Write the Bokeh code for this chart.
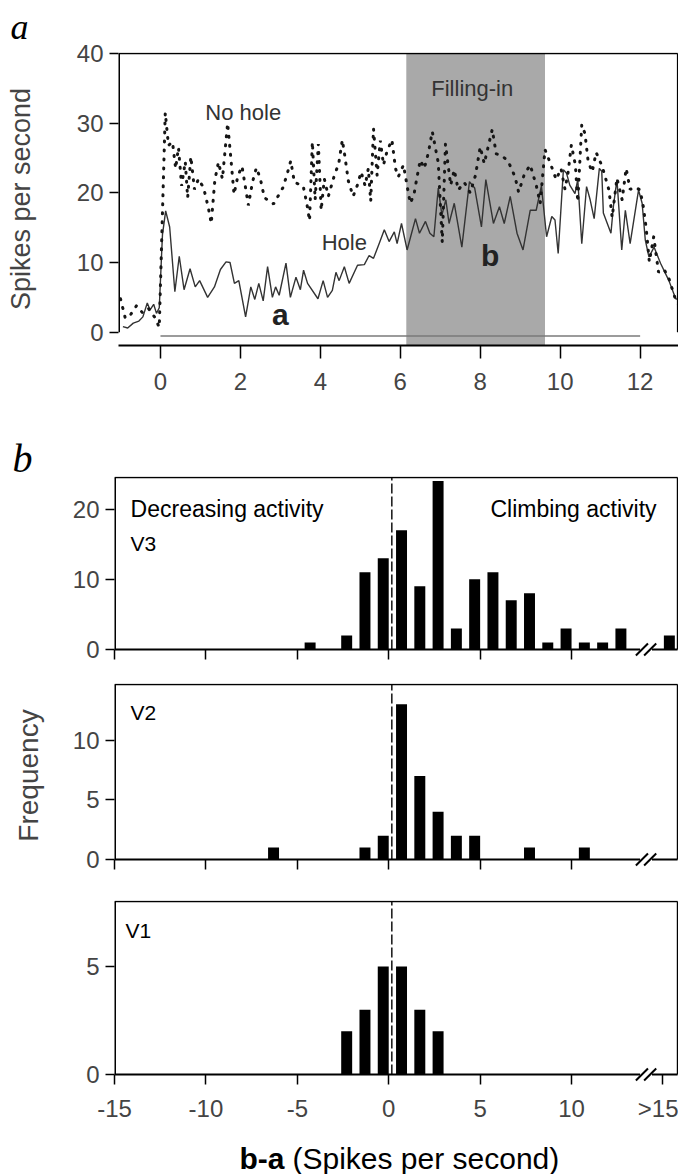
from bokeh.plotting import figure
from bokeh.layouts import column
from bokeh.models import Range1d, FixedTicker, Title
from bokeh.core.properties import value
from bokeh.embed import file_html
from bokeh.resources import INLINE

FONT = "Liberation Sans"
SERIF = "Liberation Serif"

# ---------------- panel a data (time in s, rate in spikes/s) ----------------
hole_t = [-0.94, -0.82, -0.68, -0.54, -0.44, -0.33, -0.26, -0.17, -0.1, -0.03, 0.05, 0.13,
          0.23, 0.36, 0.47, 0.59, 0.74, 0.87, 0.98, 1.18, 1.35, 1.5, 1.64, 1.74, 1.85, 1.96,
          2.13, 2.26, 2.36, 2.46, 2.57, 2.68, 2.8, 2.88, 2.97, 3.14, 3.25, 3.39, 3.5, 3.58,
          3.68, 3.94, 4.07, 4.18, 4.3, 4.39, 4.47, 4.6, 4.72, 4.93, 5.1, 5.22, 5.33, 5.47,
          5.6, 5.72, 5.85, 5.92, 6.03, 6.17, 6.38, 6.48, 6.63, 6.74, 6.84, 6.95, 7.04, 7.14,
          7.22, 7.35, 7.54, 7.73, 7.86, 8.03, 8.14, 8.33, 8.48, 8.6, 8.75, 8.92, 9.07, 9.25,
          9.4, 9.53, 9.66, 9.79, 9.87, 9.95, 10.08, 10.16, 10.24, 10.37, 10.44, 10.54, 10.66,
          10.75, 10.85, 10.98, 11.04, 11.08, 11.27, 11.33, 11.42, 11.54, 11.63, 11.75, 11.96,
          12.05, 12.13, 12.22, 12.35, 12.51, 12.72, 12.89, 12.96]
hole_v = [0.8, 0.6, 1.3, 1.6, 2.2, 4.2, 3.2, 4.0, 2.7, 3.5, 14.0, 17.4,
          15.1, 5.8, 10.9, 6.1, 9.1, 6.5, 7.4, 5.0, 6.5, 9.0, 10.1, 10.0, 7.0, 7.4,
          2.2, 6.5, 4.7, 7.0, 4.5, 9.4, 5.0, 6.5, 5.3, 9.9, 5.0, 7.9, 6.1, 8.9,
          7.0, 4.8, 7.4, 5.0, 6.0, 8.6, 7.4, 9.4, 7.0, 9.6, 9.7, 11.0, 10.6, 12.7,
          14.7, 13.0, 14.4, 12.7, 15.6, 11.8, 16.3, 14.2, 15.9, 14.2, 13.7, 20.7, 16.8, 19.0,
          15.6, 18.5, 12.2, 21.6, 20.7, 15.1, 21.9, 15.6, 18.0, 15.6, 19.5, 14.2, 11.8, 17.5,
          17.5, 21.0, 13.7, 16.6, 16.1, 11.3, 23.3, 22.8, 21.1, 19.9, 21.9, 12.7, 20.9,
          19.0, 16.3, 23.5, 23.1, 17.1, 14.2, 18.0, 21.9, 11.8, 17.5, 12.7, 20.4,
          18.5, 13.2, 10.8, 12.2, 9.9, 7.4, 4.8, 4.7]

nohole_t = [-1.0, -0.88, -0.75, -0.6, -0.45, -0.3, -0.15, -0.03, 0.12, 0.2, 0.3, 0.38, 0.45,
            0.53, 0.62, 0.68, 0.76, 0.85, 0.95, 1.08, 1.2, 1.27, 1.36, 1.45, 1.55, 1.68, 1.76,
            1.84, 1.94, 2.04, 2.12, 2.2, 2.3, 2.4, 2.5, 2.6, 2.83, 3.06, 3.16, 3.26, 3.35, 3.57,
            3.66, 3.73, 3.8, 3.87, 3.95, 4.02, 4.1, 4.2, 4.35, 4.46, 4.55, 4.62, 4.7, 4.82, 4.92,
            5.02, 5.12, 5.2, 5.26, 5.33, 5.42, 5.5, 5.58, 5.67, 5.79, 5.88, 5.95, 6.08, 6.17,
            6.25, 6.34, 6.42, 6.5, 6.6, 6.7, 6.8, 6.95, 7.05, 7.13, 7.26, 7.35, 7.45, 7.6, 7.75,
            7.88, 8.0, 8.1, 8.3, 8.4, 8.55, 8.7, 8.87, 8.96, 9.1, 9.25, 9.4, 9.5, 9.62, 9.75,
            9.9, 10.02, 10.12, 10.2, 10.28, 10.38, 10.44, 10.54, 10.62, 10.7, 10.8, 10.9, 11.05,
            11.22, 11.3, 11.42, 11.55, 11.65, 11.75, 11.88, 12.0, 12.08, 12.15, 12.23, 12.34,
            12.46, 12.6, 12.72, 12.88, 12.96]
nohole_v = [4.8, 2.0, 2.5, 3.8, 2.8, 3.4, 2.2, 0.7, 31.5, 26.8, 27.3, 23.5, 26.5,
            21.0, 24.5, 19.3, 25.2, 20.5, 22.0, 20.7, 17.8, 15.6, 21.8, 24.4, 22.0, 30.0, 25.0,
            19.8, 22.5, 23.8, 21.0, 18.2, 21.5, 23.6, 22.0, 19.3, 18.4, 20.7, 22.5, 24.6, 21.5, 21.0,
            18.5, 16.0, 27.3, 19.0, 27.0, 17.5, 22.0, 19.5, 22.5, 24.2, 27.6, 25.0, 21.7, 19.5, 21.0,
            23.0, 21.0, 23.5, 18.8, 29.2, 22.5, 27.5, 24.0, 26.0, 27.6, 23.5, 22.3, 24.0, 21.0,
            18.5, 19.7, 22.3, 24.7, 23.5, 25.7, 28.8, 24.3, 12.9, 27.0, 21.1, 23.3, 20.4, 21.5, 20.0,
            22.5, 26.6, 24.2, 29.1, 25.6, 25.3, 24.5, 22.3, 20.1, 22.6, 24.0, 21.1, 18.5, 26.2, 24.3,
            21.9, 23.5, 20.5, 23.0, 26.9, 24.0, 18.7, 29.8, 28.5, 24.5, 23.0, 25.8, 23.8,
            20.4, 16.5, 22.1, 19.0, 23.5, 20.5, 20.8, 20.4, 18.0, 15.0, 10.1, 13.7,
            8.6, 9.0, 7.7, 4.8, 4.0]

fill_start, fill_end = 6.15, 9.62      # "Filling-in" period
stim_start, stim_end, stim_y = 0.0, 12.0, -0.55
a_xticks = [0, 2, 4, 6, 8, 10, 12]
a_yticks = [0, 10, 20, 30, 40]

# ---------------- panel b data (b-a, counts) ----------------
bin_width = 0.6
v3_x = [-4.3, -2.3, -1.3, -0.3, 0.7, 1.7, 2.7, 3.7, 4.7, 5.7, 6.7, 7.7, 8.7, 9.7, 10.7, 11.7, 12.7, 15.35]
v3_n = [1, 2, 11, 13, 17, 9, 24, 3, 10, 11, 7, 8, 1, 3, 1, 1, 3, 2]
v2_x = [-6.3, -1.3, -0.3, 0.7, 1.7, 2.7, 3.7, 4.7, 7.7, 10.7]
v2_n = [1, 1, 2, 13, 7, 4, 2, 2, 1, 1]
v1_x = [-2.3, -1.3, -0.3, 0.7, 1.7, 2.7]
v1_n = [2, 3, 5, 5, 3, 2]
b_xticks = [-15, -10, -5, 0, 5, 10]
b_xticks_last = [-15, -10, -5, 0, 5, 10, 15]
b_overrides = {-15: "-15", -10: "-10", -5: "-5", 15: ">15"}
split_x = 0.17
b_xmin, b_xmax = -15.0, 15.8
break_x = [13.85, 14.3]

W = 678


def clean(p):
    p.outline_line_color = None
    p.grid.visible = False
    p.background_fill_color = "white"
    p.border_fill_color = "white"
    p.min_border_right = 0
    p.frame_align = False


def strip(h):
    s = figure(frame_width=W, frame_height=h, x_range=Range1d(0, W), y_range=Range1d(0, h),
               min_border=0, x_axis_type=None, y_axis_type=None,
               output_backend="svg", toolbar_location=None, tools="")
    clean(s)
    s.min_border_left = 0
    s.min_border_top = 0
    s.min_border_bottom = 0
    return s


# ---------------- panel a ----------------
a_xr = Range1d(-1.05, 12.96)
a_yr = Range1d(-1.91, 40.14)
pa = figure(frame_width=560, frame_height=293, x_range=a_xr, y_range=a_yr,
            min_border_left=118, min_border_top=52, min_border_bottom=60,
            output_backend="svg", toolbar_location=None, tools="")
clean(pa)
pa.add_layout(Title(text="a", align="left", offset=-108, standoff=8, vertical_align="top",
                    text_font=SERIF, text_font_style="italic", text_font_size="36px",
                    text_color="black"), "above")
pa.quad(left=[fill_start], right=[fill_end], bottom=[a_yr.start], top=[a_yticks[-1]],
        fill_color="#a9a9a9", line_color=None)
pa.line([stim_start, stim_end], [stim_y, stim_y], line_color="#7a7a7a", line_width=1.3)
pa.line(hole_t, hole_v, line_color="#333333", line_width=1.4)
pa.line(nohole_t, nohole_v, line_color="#151515", line_width=3, line_dash="1 8", line_cap="round")
ytop = a_yticks[-1]
pa.segment(x0=[a_xr.start, a_xr.start, 12.94], y0=[0, ytop, 0],
           x1=[a_xr.start, 12.94, 12.94], y1=[ytop, ytop, ytop],
           line_color="black", line_width=[3, 1.6, 1.6])
pa.text(x=[2.07, 7.8, 4.6], y=[31.5, 35.0, 12.9], text=["No hole", "Filling-in", "Hole"],
        text_font=value(FONT), text_font_size="22px", text_color="#333333",
        text_align="center", text_baseline="middle")
pa.text(x=[3.0, 8.25], y=[2.6, 11.0], text=["a", "b"], text_font=value(FONT),
        text_font_size="30px", text_font_style="bold", text_color="#222222",
        text_align="center", text_baseline="middle")
ax = pa.yaxis[0]
ax.ticker = FixedTicker(ticks=a_yticks)
ax.axis_line_color = None
ax.major_tick_out = 9
ax.major_tick_in = 0
ax.major_tick_line_width = 1.5
ax.minor_tick_line_color = None
ax.major_label_text_font = FONT
ax.major_label_text_font_size = "24px"
ax.major_label_standoff = 6
ax.axis_label = "Spikes per second"
ax.axis_label_text_font = FONT
ax.axis_label_text_font_size = "27px"
ax.axis_label_text_font_style = "normal"
ax.axis_label_standoff = 38
bx = pa.xaxis[0]
bx.ticker = FixedTicker(ticks=a_xticks)
bx.axis_line_width = 2
bx.major_tick_out = 13
bx.major_tick_in = 0
bx.major_tick_line_width = 1.5
bx.minor_tick_line_color = None
bx.major_label_text_font = FONT
bx.major_label_text_font_size = "24px"
bx.major_label_standoff = 14

# ---------------- panel b ----------------
b_xr = Range1d(b_xmin, 15.85)


def hist_panel(xs, ns, ymax, yticks, data_h, top_b, bot_b, last=False):
    pad_b, pad_t = 8, 1
    ppu = data_h / ymax
    yr = Range1d(-pad_b / ppu, ymax + pad_t / ppu)
    p = figure(frame_width=564, frame_height=data_h + pad_b + pad_t, x_range=b_xr, y_range=yr,
               min_border_left=114, min_border_top=top_b, min_border_bottom=bot_b,
               output_backend="svg", toolbar_location=None, tools="")
    clean(p)
    p.vbar(x=xs, top=ns, bottom=0, width=bin_width, fill_color="black", line_color=None)
    p.segment(x0=[split_x], y0=[0], x1=[split_x], y1=[ymax], line_color="black",
              line_width=1.4, line_dash="10 3")
    p.segment(x0=[b_xmin, b_xmin, b_xmax], y0=[0, ymax, 0], x1=[b_xmin, b_xmax, b_xmax],
              y1=[ymax, ymax, ymax], line_color="black", line_width=[3, 1.6, 1.6])
    p.segment(x0=[b_xmin, break_x[1] + 0.1], y0=[0, 0], x1=[break_x[0] - 0.1, b_xmax], y1=[0, 0],
              line_color="black", line_width=2)
    dx, dy = 0.33, 6.0 / ppu
    p.segment(x0=[b - dx for b in break_x], y0=[-dy, -dy],
              x1=[b + dx for b in break_x], y1=[dy, dy], line_color="black", line_width=2)
    yax = p.yaxis[0]
    yax.ticker = FixedTicker(ticks=yticks)
    yax.axis_line_color = None
    yax.major_tick_out = 9
    yax.major_tick_in = 0
    yax.major_tick_line_width = 1.5
    yax.minor_tick_line_color = None
    yax.major_label_text_font = FONT
    yax.major_label_text_font_size = "24px"
    yax.major_label_standoff = 6
    xax = p.xaxis[0]
    xax.ticker = FixedTicker(ticks=b_xticks_last if last else b_xticks)
    xax.axis_line_color = None
    xax.major_tick_in = pad_b
    xax.major_tick_out = 2
    xax.major_tick_line_width = 1.5
    xax.minor_tick_line_color = None
    if last:
        xax.major_label_overrides = b_overrides
        xax.major_label_text_font = FONT
        xax.major_label_text_font_size = "24px"
        xax.major_label_standoff = 10
    else:
        xax.major_label_text_color = None
        xax.major_label_text_font_size = "1px"
        xax.major_label_standoff = 0
    return p


p3 = hist_panel(v3_x, v3_n, 24.5, [0, 10, 20], 172, 71, 10)
p3.add_layout(Title(text="b", align="left", offset=-102, standoff=-8,
                    text_font=SERIF, text_font_style="italic", text_font_size="40px",
                    text_color="black"), "above")
p3.text(x=[-14.12], y=[20.0], text=["Decreasing activity"], text_font=value(FONT),
        text_font_size="23px", text_align="left", text_baseline="middle")
p3.text(x=[14.65], y=[20.0], text=["Climbing activity"], text_font=value(FONT),
        text_font_size="23px", text_align="right", text_baseline="middle")
p3.text(x=[-14.12], y=[15.1], text=["V3"], text_font=value(FONT),
        text_font_size="21px", text_align="left", text_baseline="middle")

p2 = hist_panel(v2_x, v2_n, 14.66, [0, 5, 10], 175, 16, 13)
p2.text(x=[-14.12], y=[12.3], text=["V2"], text_font=value(FONT),
        text_font_size="21px", text_align="left", text_baseline="middle")
fy = p2.yaxis[0]
fy.axis_label = "Frequency"
fy.axis_label_text_font = FONT
fy.axis_label_text_font_size = "28px"
fy.axis_label_text_font_style = "normal"
fy.axis_label_standoff = 26

p1 = hist_panel(v1_x, v1_n, 8.0, [0, 5], 173, 20, 46, last=True)
p1.text(x=[-14.4], y=[6.67], text=["V1"], text_font=value(FONT),
        text_font_size="21px", text_align="left", text_baseline="middle")

# ---------------- x-axis title strip ----------------
sx = strip(48)
sx.text(x=[284], y=[18], text=["b-a"], text_font=value(FONT), text_font_style="bold",
        text_font_size="30px", text_align="right", text_baseline="middle")
sx.text(x=[292], y=[18], text=["(Spikes per second)"], text_font=value(FONT),
        text_font_size="30px", text_align="left", text_baseline="middle")

layout = column(pa, p3, p2, p1, sx, spacing=0)
open("out.html", "w").write(file_html(layout, INLINE))
